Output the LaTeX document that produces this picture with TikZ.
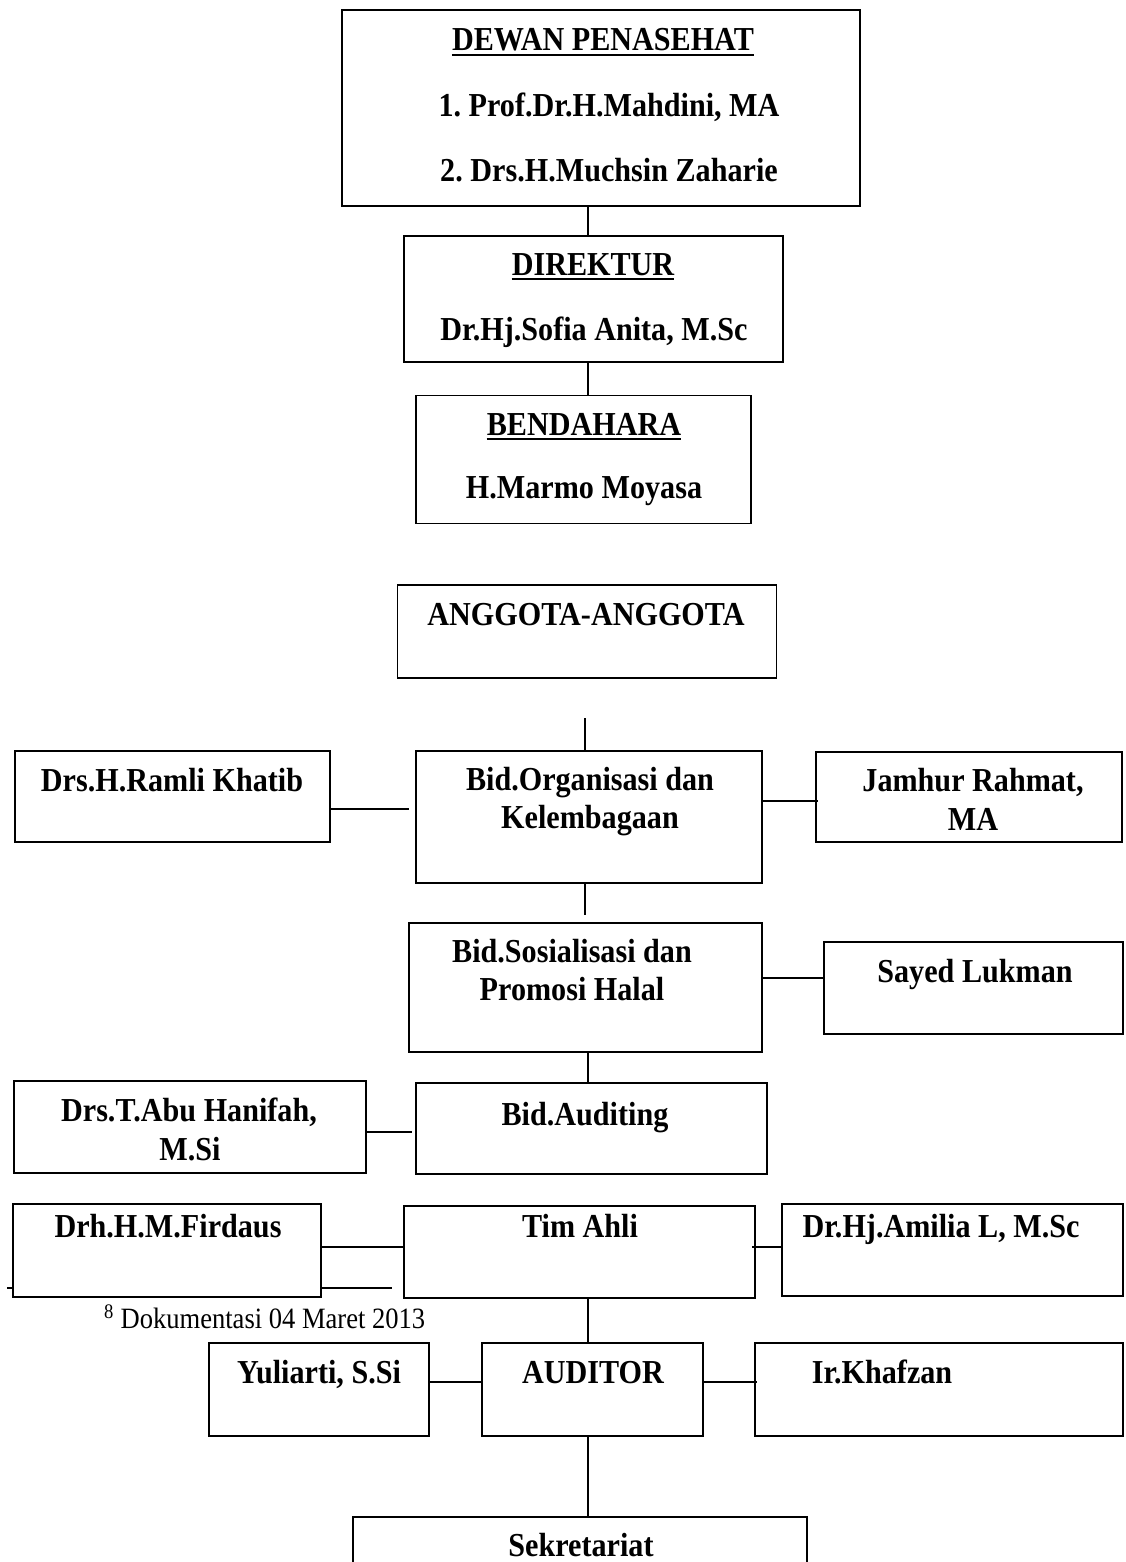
\documentclass[tikz,border=0pt]{standalone}
\usepackage{fontspec}
\setmainfont{Liberation Serif}[FakeStretch=0.9]
\begin{document}
\frenchspacing
\begin{tikzpicture}[x=1pt,y=-1pt,
  box/.style={draw=black, line width=1.8pt, fill=white, inner sep=0pt, rectangle},
  lbl/.style={font=\bfseries\fontsize{33.5}{36}\selectfont, anchor=base, inner sep=0pt},
  conn/.style={draw=black, line width=1.5pt},
  ulin/.style={draw=black, line width=1.6pt}]
\useasboundingbox (0,0) rectangle (1125,1562);
\clip (0,0) rectangle (1125,1562);
\coordinate (vx) at (588,0);

% footnote rule (behind boxes)
\coordinate (fr1) at (7,1288);
\coordinate (fr2) at (392,1288);
\draw[line width=2pt] (fr1) -- (fr2);

% boxes
\node[box, minimum width=518pt, minimum height=196pt] (dewan) at (601,108) {};
\node[box, minimum width=379pt, minimum height=126pt] (dir) at (593.5,299) {};
\node[box, minimum width=335pt, minimum height=128pt] (bend) at (583.5,459.5) {};
\node[box, minimum width=379pt, minimum height=93pt] (angg) at (587,631.5) {};
\node[box, minimum width=346pt, minimum height=132pt] (org) at (589,817) {};
\node[box, minimum width=315pt, minimum height=91pt] (ramli) at (172.5,796.5) {};
\node[box, minimum width=306pt, minimum height=90pt] (jam) at (969,797) {};
\node[box, minimum width=353pt, minimum height=129pt] (sos) at (585.5,987.5) {};
\node[box, minimum width=299pt, minimum height=92pt] (sayed) at (973.5,988) {};
\node[box, minimum width=351pt, minimum height=91pt] (aud) at (591.5,1128.5) {};
\node[box, minimum width=352pt, minimum height=92pt] (abu) at (190,1127) {};
\node[box, minimum width=308pt, minimum height=93pt] (fird) at (167,1250.5) {};
\node[box, minimum width=351pt, minimum height=92pt] (tim) at (579.5,1252) {};
\node[box, minimum width=341pt, minimum height=92pt] (ami) at (952.5,1250) {};
\node[box, minimum width=221pt, minimum height=93pt] (auditor) at (592.5,1389.5) {};
\node[box, minimum width=220pt, minimum height=93pt] (yuli) at (319,1389.5) {};
\node[box, minimum width=368pt, minimum height=93pt] (khaf) at (939,1389.5) {};
\node[box, minimum width=454pt, minimum height=90pt] (sekr) at (580,1562) {};

% texts
\node[lbl] (t1) at (603,51) {DEWAN PENASEHAT};
\node[lbl] (t2) at (609,117) {1. Prof.Dr.H.Mahdini, MA};
\node[lbl] (t3) at (609,182) {2. Drs.H.Muchsin Zaharie};
\node[lbl] (t4) at (593,275) {DIREKTUR};
\node[lbl] (t5) at (594,340) {Dr.Hj.Sofia Anita, M.Sc};
\node[lbl] (t6) at (584,435) {BENDAHARA};
\node[lbl] (t7) at (584,498) {H.Marmo Moyasa};
\node[lbl] (t8) at (586,625) {ANGGOTA-ANGGOTA};
\node[lbl] (t9) at (172,791) {Drs.H.Ramli Khatib};
\node[lbl] (t10) at (590,790) {Bid.Organisasi dan};
\node[lbl] (t11) at (590,828) {Kelembagaan};
\node[lbl] (t12) at (973,791) {Jamhur Rahmat,};
\node[lbl] (t13) at (973,830) {MA};
\node[lbl] (t14) at (572,962) {Bid.Sosialisasi dan};
\node[lbl] (t15) at (572,1000) {Promosi Halal};
\node[lbl] (t16) at (975,982) {Sayed Lukman};
\node[lbl] (t17) at (189,1121) {Drs.T.Abu Hanifah,};
\node[lbl] (t18) at (190,1160) {M.Si};
\node[lbl] (t19) at (585,1125) {Bid.Auditing};
\node[lbl] (t20) at (168,1237) {Drh.H.M.Firdaus};
\node[lbl] (t21) at (580,1237) {Tim Ahli};
\node[lbl] (t22) at (941,1237) {Dr.Hj.Amilia L, M.Sc};
\node[lbl] (t23) at (319,1383) {Yuliarti, S.Si};
\node[lbl] (t24) at (593,1383) {AUDITOR};
\node[lbl] (t25) at (882,1383) {Ir.Khafzan};
\node[lbl] (t26) at (581,1556) {Sekretariat};
\node[anchor=base west, inner sep=0pt, font=\fontsize{29.5}{32}\selectfont] (fn) at (104,1328) {\textsuperscript{8} Dokumentasi 04 Maret 2013};

% underlines
\draw[ulin] ([yshift=-4pt]t1.base west) -- ([yshift=-4pt]t1.base east);
\draw[ulin] ([yshift=-4pt]t4.base west) -- ([yshift=-4pt]t4.base east);
\draw[ulin] ([yshift=-4pt]t6.base west) -- ([yshift=-4pt]t6.base east);

% vertical connectors
\draw[conn] (dewan.south -| vx) -- (dir.north -| vx);
\draw[conn] (dir.south -| vx) -- (bend.north -| vx);
\coordinate (o1) at (585,718);
\draw[conn] (o1) -- (org.north -| o1);
\coordinate (o2) at (585,915);
\draw[conn] (org.south -| o2) -- (o2);
\draw[conn] (sos.south -| vx) -- (aud.north -| vx);
\draw[conn] (tim.south -| vx) -- (auditor.north -| vx);
\draw[conn] (auditor.south -| vx) -- (sekr.north -| vx);

% horizontal connectors
\coordinate (h1) at (409,809);
\draw[conn] (ramli.east |- h1) -- (h1);
\coordinate (h2) at (818,801);
\draw[conn] (org.east |- h2) -- (h2);
\coordinate (h3) at (0,978);
\draw[conn] (sos.east |- h3) -- (sayed.west |- h3);
\coordinate (h4) at (412,1132);
\draw[conn] (abu.east |- h4) -- (h4);
\coordinate (h5) at (0,1247);
\draw[conn] (fird.east |- h5) -- (tim.west |- h5);
\coordinate (h6) at (752,1247);
\draw[conn] (h6) -- (ami.west |- h6);
\coordinate (h7) at (0,1382);
\draw[conn] (yuli.east |- h7) -- (auditor.west |- h7);
\coordinate (h8) at (757,1382);
\draw[conn] (auditor.east |- h8) -- (h8);
\end{tikzpicture}
\end{document}
